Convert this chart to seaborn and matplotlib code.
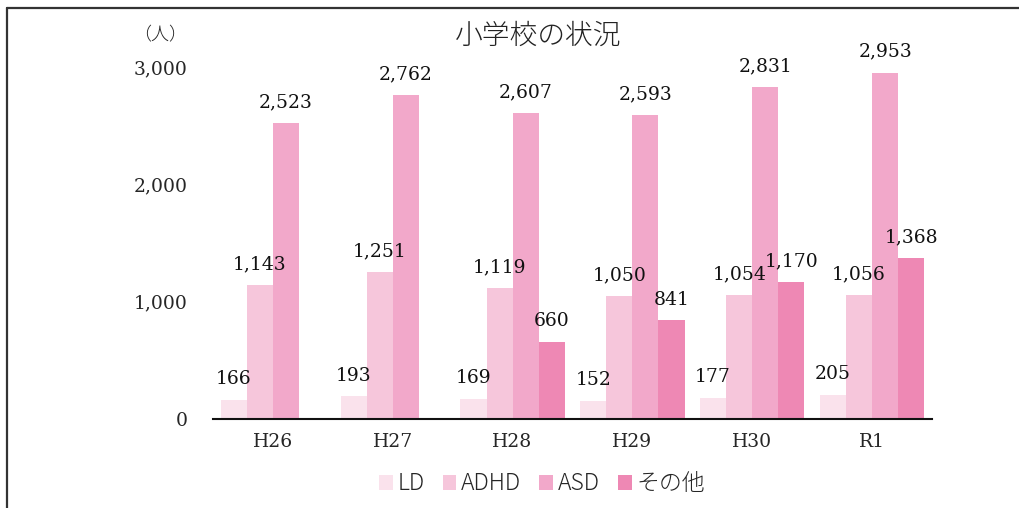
import pandas as pd
import seaborn as sns
import matplotlib.pyplot as plt
from matplotlib.lines import Line2D

# data
years = ["H26", "H27", "H28", "H29", "H30", "R1"]
kinds = ["LD", "ADHD", "ASD", "その他"]
ld = [166, 193, 169, 152, 177, 205]
adhd = [1143, 1251, 1119, 1050, 1054, 1056]
asd = [2523, 2762, 2607, 2593, 2831, 2953]
other = [None, None, 660, 841, 1170, 1368]
colors = ["#FAE2EC", "#F6C6DB", "#F2A8CA", "#EE88B4"]

rows = []
for kind, vals in zip(kinds, [ld, adhd, asd, other]):
    for y, v in zip(years, vals):
        if v is not None:
            rows.append({"year": y, "kind": kind, "count": v})
df = pd.DataFrame(rows)

sns.set_style("white")
plt.rcParams['font.family'] = ['Noto Sans CJK JP', 'DejaVu Sans']

fig = plt.figure(figsize=(10.2, 5.08), dpi=100)
ax = fig.add_axes([213 / 1020, 1 - 419 / 508, (932 - 213) / 1020, (419 - 67) / 508])

sns.barplot(data=df, x="year", y="count", hue="kind", order=years, hue_order=kinds,
            palette=colors, width=0.87, saturation=1, linewidth=0, edgecolor="none",
            ax=ax, legend=True)

for c in ax.containers:
    ax.bar_label(c, labels=[f"{v:,.0f}" for v in c.datavalues], padding=8.5,
                 fontsize=13.5, family="DejaVu Serif", color="#111")

ax.set_ylim(0, 3000)
ax.set_yticks([0, 1000, 2000, 3000])
ax.set_yticklabels([f"{t:,}" for t in [0, 1000, 2000, 3000]], family="DejaVu Serif", fontsize=13.5)
ax.set_xticks(range(len(years)))
ax.set_xticklabels(years, family="DejaVu Serif", fontsize=13.5)
ax.tick_params(axis="y", length=0, pad=18)
ax.tick_params(axis="x", length=0, pad=10)
ax.set_xlabel("")
ax.set_ylabel("")
for s in ["top", "right", "left"]:
    ax.spines[s].set_visible(False)
ax.spines["bottom"].set_color("#111")
ax.spines["bottom"].set_linewidth(1.5)

handles, labels = ax.get_legend_handles_labels()
ax.legend(handles, labels, loc="center", bbox_to_anchor=(542 / 1020, 1 - 484 / 508),
          bbox_transform=fig.transFigure, ncol=4, frameon=False,
          prop={"size": 16.5, "weight": "light"},
          handlelength=0.6, handleheight=0.6, handletextpad=0.2, columnspacing=0.8)

fig.text(538 / 1020, 1 - 36 / 508, "小学校の状況", ha="center", va="center", fontsize=20,
         weight="light", color="#222")
fig.text(160 / 1020, 1 - 35 / 508, "（人）", ha="center", va="center", fontsize=13,
         weight="light", color="#222")

# outer frame (left and top edges)
fig.add_artist(Line2D([7 / 1020, 7 / 1020], [0, 1 - 8 / 508], color="#333", lw=1.6))
fig.add_artist(Line2D([7 / 1020, 1], [1 - 8 / 508, 1 - 8 / 508], color="#333", lw=1.6))

fig.savefig("out.png", dpi=100)
